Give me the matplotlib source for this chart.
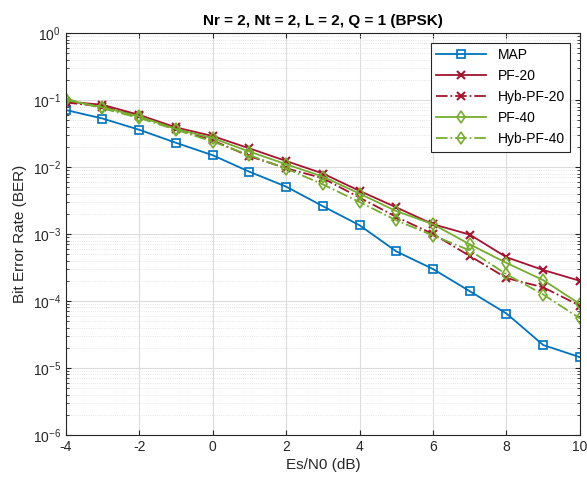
import matplotlib
matplotlib.use("Agg")
import matplotlib.pyplot as plt
import matplotlib.ticker as mticker
import numpy as np

plt.rcParams["font.family"] = ["Liberation Sans", "DejaVu Sans"]
plt.rcParams["axes.unicode_minus"] = False

snr_db = [-4, -3, -2, -1, 0, 1, 2, 3, 4, 5, 6, 7, 8, 9, 10]

ber_map = [0.071, 0.053, 0.036, 0.023, 0.015, 0.0085, 0.0051, 0.0026, 0.00135,
           5.5e-4, 3.0e-4, 1.4e-4, 6.5e-5, 2.2e-5, 1.45e-5]
ber_pf20 = [0.095, 0.085, 0.060, 0.039, 0.029, 0.019, 0.0123, 0.008, 0.0044,
            0.0025, 0.0014, 9.8e-4, 4.5e-4, 2.9e-4, 2.0e-4]
ber_hyb20 = [0.092, 0.080, 0.058, 0.037, 0.025, 0.0145, 0.0096, 0.0068, 0.0035,
             0.0018, 1.0e-3, 4.7e-4, 2.2e-4, 1.6e-4, 8.5e-5]
ber_pf40 = [0.100, 0.078, 0.057, 0.037, 0.027, 0.017, 0.011, 0.0072, 0.0040,
            0.0022, 1.4e-3, 7.0e-4, 3.7e-4, 2.05e-4, 9.0e-5]
ber_hyb40 = [0.105, 0.075, 0.054, 0.036, 0.024, 0.015, 0.0095, 0.0055, 0.0030,
             0.0016, 9.5e-4, 5.7e-4, 2.5e-4, 1.25e-4, 5.5e-5]

blue = (0.0, 0.447, 0.741)
red = (0.635, 0.078, 0.184)
green = (0.466, 0.674, 0.188)

fig = plt.figure(figsize=(5.87, 4.86), dpi=100)
ax = fig.add_axes([0.112, 0.105, 0.876, 0.827])

ax.semilogy(snr_db, ber_map, "-s", color=blue, lw=1.3, ms=5.5, mfc="none", mew=1.2, label="MAP")
ax.semilogy(snr_db, ber_pf20, "-x", color=red, lw=1.3, ms=6, mew=1.5, label="PF-20")
ax.semilogy(snr_db, ber_hyb20, "-.x", color=red, lw=1.3, ms=6, mew=1.5, label="Hyb-PF-20")
ax.semilogy(snr_db, ber_pf40, "-d", color=green, lw=1.3, ms=6.5, mfc="none", mew=1.2, label="PF-40")
ax.semilogy(snr_db, ber_hyb40, "-.d", color=green, lw=1.3, ms=6.5, mfc="none", mew=1.2, label="Hyb-PF-40")

ax.set_xlim(-4, 10)
ax.set_ylim(1e-6, 1)
ax.set_xticks(np.arange(-4, 11, 2))
ax.set_yticks(10.0 ** np.arange(-6, 1))
ax.yaxis.set_minor_locator(mticker.LogLocator(base=10, subs=np.arange(2, 10)))
ax.yaxis.set_minor_formatter(mticker.NullFormatter())
ax.grid(True, which="major", color="#dcdcdc", lw=0.8)
ax.grid(True, which="minor", color="#dcdcdc", lw=0.6, linestyle=":")
ax.tick_params(which="both", direction="in", top=True, right=True, labelsize=10, colors="#262626")
for s in ax.spines.values():
    s.set_color("#262626")

ax.set_xlabel("Es/N0 (dB)", fontsize=11, color="#262626", labelpad=3)
ax.set_ylabel("Bit Error Rate (BER)", fontsize=11, color="#262626")
ax.set_title("Nr = 2, Nt = 2, L = 2, Q = 1 (BPSK)", fontsize=11, fontweight="bold")

leg = ax.legend(loc="upper right", fontsize=10, fancybox=False, framealpha=1,
                edgecolor="#262626", handlelength=3.6, borderaxespad=0.7)
leg.get_frame().set_linewidth(0.8)

fig.savefig("out.png", dpi=100)
